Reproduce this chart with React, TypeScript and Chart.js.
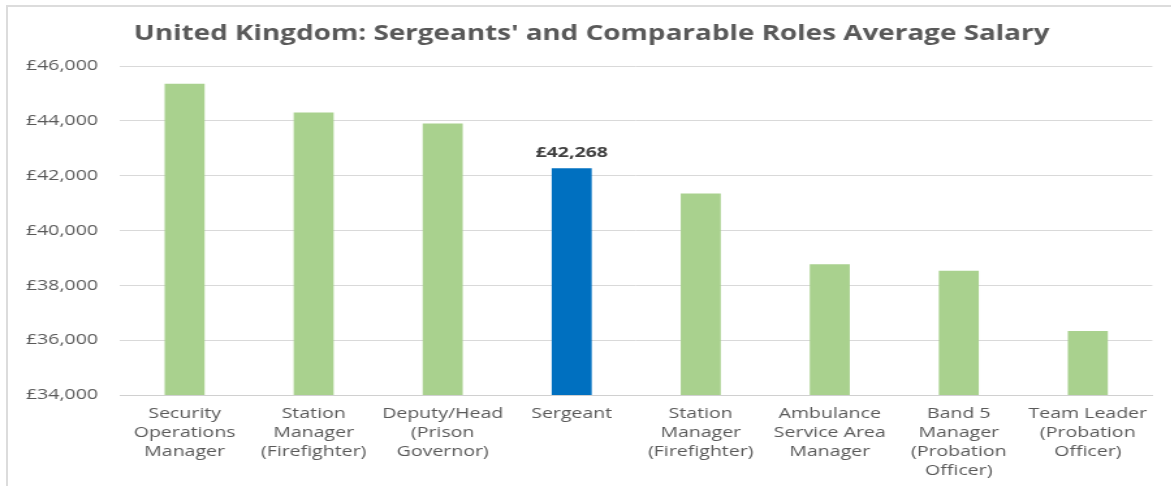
import React, { useEffect, useRef } from 'react';
import { Chart, registerables } from 'chart.js';

Chart.register(...registerables);

const categories: string[][] = [
  ['Security', 'Operations', 'Manager'],
  ['Station', 'Manager', '(Firefighter)'],
  ['Deputy/Head', '(Prison', 'Governor)'],
  ['Sergeant'],
  ['Station', 'Manager', '(Firefighter)'],
  ['Ambulance', 'Service Area', 'Manager'],
  ['Band 5', 'Manager', '(Probation', 'Officer)'],
  ['Team Leader', '(Probation', 'Officer)'],
];
const salaries: number[] = [45350, 44300, 43900, 42268, 41350, 38770, 38530, 36330];
const highlightIndex = 3;
const otherColor = '#A9D18E';
const highlightColor = '#0070C0';
const yMin = 34000;
const yMax = 46000;
const yStep = 2000;
const titleText = "United Kingdom: Sergeants' and Comparable Roles Average Salary";

const S = 1.3; // horizontal stretch
const FULL_W = 1171;
const FULL_H = 486;
const CW = FULL_W / S;
const PAD_R = CW - 1151 / S;
const FONT = '"Open Sans", "DejaVu Sans", sans-serif';

const fmt = (v: number) => '£' + v.toLocaleString('en-GB');

const labelPlugin = {
  id: 'highlightLabel',
  afterDatasetsDraw(chart: any) {
    const meta = chart.getDatasetMeta(0);
    const el = meta.data[highlightIndex];
    const ctx = chart.ctx;
    ctx.save();
    // title
    ctx.font = `bold 21.4px ${FONT}`;
    ctx.fillStyle = '#595959';
    ctx.textAlign = 'center';
    ctx.textBaseline = 'alphabetic';
    ctx.fillText(titleText, 591 / S, 40);
    // data label
    if (el) {
      ctx.font = `bold 15px ${FONT}`;
      ctx.fillStyle = '#404040';
      ctx.textBaseline = 'middle';
      ctx.fillText(fmt(salaries[highlightIndex]), el.x, el.y - 16);
    }
    ctx.restore();
  },
};

export default function App() {
  const ref = useRef<HTMLCanvasElement | null>(null);
  useEffect(() => {
    document.body.style.margin = '0';
    if (!ref.current) return;
    const chart = new Chart(ref.current, {
      type: 'bar',
      data: {
        labels: categories,
        datasets: [
          {
            data: salaries,
            backgroundColor: salaries.map((_, i) => (i === highlightIndex ? highlightColor : otherColor)),
            barPercentage: 0.31,
            categoryPercentage: 1,
          },
        ],
      },
      options: {
        animation: false,
        responsive: true,
        maintainAspectRatio: false,
        layout: { padding: { left: 0, right: PAD_R, top: 66, bottom: 0 } },
        plugins: {
          legend: { display: false },
          tooltip: { enabled: false },
          title: { display: false },
        },
        scales: {
          x: {
            grid: { display: false, drawTicks: false },
            border: { display: true, color: '#D0D0D0', width: 1 },
            ticks: {
              color: '#595959',
              font: { family: FONT, size: 15, lineHeight: 1.27 },
              padding: 9,
              maxRotation: 0,
              autoSkip: false,
            },
            afterFit: (axis: any) => {
              axis.height = FULL_H - 395;
            },
          },
          y: {
            min: yMin,
            max: yMax,
            grid: { color: '#D9D9D9', drawTicks: false },
            border: { display: false },
            ticks: {
              stepSize: yStep,
              color: '#595959',
              font: { family: FONT, size: 15 },
              padding: 17,
              callback: (v: any) => fmt(Number(v)),
            },
            afterFit: (axis: any) => {
              axis.width = 120 / S;
            },
          },
        },
      },
      plugins: [labelPlugin],
    });
    return () => chart.destroy();
  }, []);

  return (
    <div style={{ position: 'relative', width: FULL_W, height: FULL_H, overflow: 'hidden', background: '#fff' }}>
      <div
        style={{
          position: 'absolute',
          left: 0,
          top: 0,
          width: CW,
          height: FULL_H,
          transform: `scaleX(${S})`,
          transformOrigin: '0 0',
        }}
      >
        <canvas ref={ref} />
      </div>
      <div
        style={{
          position: 'absolute',
          left: 6,
          top: 5,
          right: -10,
          bottom: -10,
          borderLeft: '2px solid #DCDCDC',
          borderTop: '2px solid #DCDCDC',
          pointerEvents: 'none',
        }}
      />
    </div>
  );
}
